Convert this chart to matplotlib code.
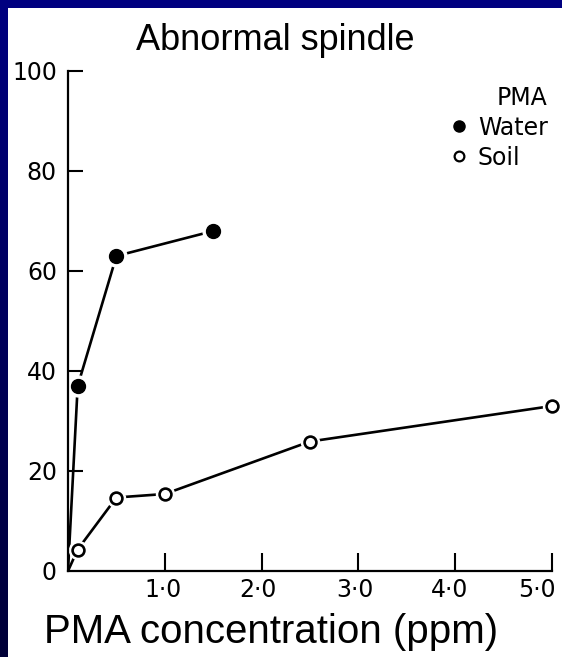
import numpy as np
import matplotlib.pyplot as plt
import matplotlib.transforms as mtransforms
from matplotlib.lines import Line2D
from matplotlib.colors import LinearSegmentedColormap

# values (% abnormal spindle vs PMA ppm)
water_x = [0.1, 0.5, 1.5]
water_y = [37, 63, 68]
soil_x = [0.1, 0.5, 1.0, 2.5, 5.0]
soil_y = [4.3, 14.7, 15.4, 25.9, 33]
xticks = [1.0, 2.0, 3.0, 4.0, 5.0]
xticklabels = ['1\u00b70', '2\u00b70', '3\u00b70', '4\u00b70', '5\u00b70']
yticks = [0, 20, 40, 60, 80, 100]

fig = plt.figure(figsize=(5.62, 6.57), dpi=100)
fig.patch.set_facecolor('white')

# navy frame on the left and top, like the slide background
left = fig.add_axes([0, 0, 8 / 562, 1])
grad = np.linspace(0, 1, 256).reshape(-1, 1)
navy = LinearSegmentedColormap.from_list('navy', ['#000038', '#000080'])
left.imshow(grad, aspect='auto', cmap=navy, origin='lower', extent=[0, 1, 0, 1])
left.axis('off')
top = fig.add_axes([0, 1 - 8 / 657, 1, 8 / 657])
top.set_facecolor('#000080')
top.set_xticks([]); top.set_yticks([])
for s in top.spines.values():
    s.set_visible(False)

ax = fig.add_axes([68 / 562, 86 / 657, 484 / 562, 500 / 657])
ax.set_xlim(0, 5.0)
ax.set_ylim(0, 100)

lw = 1.9
ax.plot([0] + water_x, [0] + water_y, color='black', lw=lw, zorder=1)
ax.plot([0] + soil_x, [0] + soil_y, color='black', lw=lw, zorder=1)
# white halos give the little gaps between line ends and markers
ax.plot(water_x, water_y, 'o', ms=15, color='white', zorder=2)
ax.plot(soil_x, soil_y, 'o', ms=13, color='white', zorder=2)
ax.plot(water_x, water_y, 'o', ms=10, color='black', zorder=3, clip_on=False)
ax.plot(soil_x, soil_y, 'o', ms=8.5, mfc='white', mec='black', mew=1.9, zorder=3, clip_on=False)

for side in ['top', 'right']:
    ax.spines[side].set_visible(False)
for side in ['left', 'bottom']:
    ax.spines[side].set_linewidth(1.6)

ax.set_xticks(xticks)
ax.set_xticklabels(xticklabels)
ax.set_yticks(yticks)
ax.set_yticklabels([str(v) for v in yticks])
ax.tick_params(axis='x', direction='in', length=13, width=1.5, pad=5, labelsize=17)
ax.tick_params(axis='y', direction='in', length=11, width=1.5, pad=8, labelsize=17)
ax.yaxis.get_major_ticks()[0].tick1line.set_visible(False)

# scanned labels sit a little left of their ticks
shifts = [-2, -4, -3, -6, -15]
for lab, dx in zip(ax.get_xticklabels(), shifts):
    lab.set_transform(lab.get_transform() +
                      mtransforms.ScaledTranslation(dx / 100, 0, fig.dpi_scale_trans))

handles = [Line2D([], [], marker='o', ls='none', color='black', ms=8),
           Line2D([], [], marker='o', ls='none', mfc='white', mec='black', mew=1.6, ms=7)]
leg = ax.legend(handles, ['Water', 'Soil'], title='PMA', frameon=False,
                loc='upper right', bbox_to_anchor=(1.035, 1.013), alignment='right',
                handlelength=0.6, handletextpad=0.5, labelspacing=0.25,
                prop={'size': 17}, title_fontsize=17)

fig.text(0.49, 1 - 50 / 657, 'Abnormal spindle', ha='center', va='baseline',
         fontsize=26, family='Liberation Sans')
fig.text(0.482, 1 - 643 / 657, 'PMA concentration (ppm)', ha='center', va='baseline',
         fontsize=29, family='Liberation Sans')

fig.savefig('out.png', dpi=100)
